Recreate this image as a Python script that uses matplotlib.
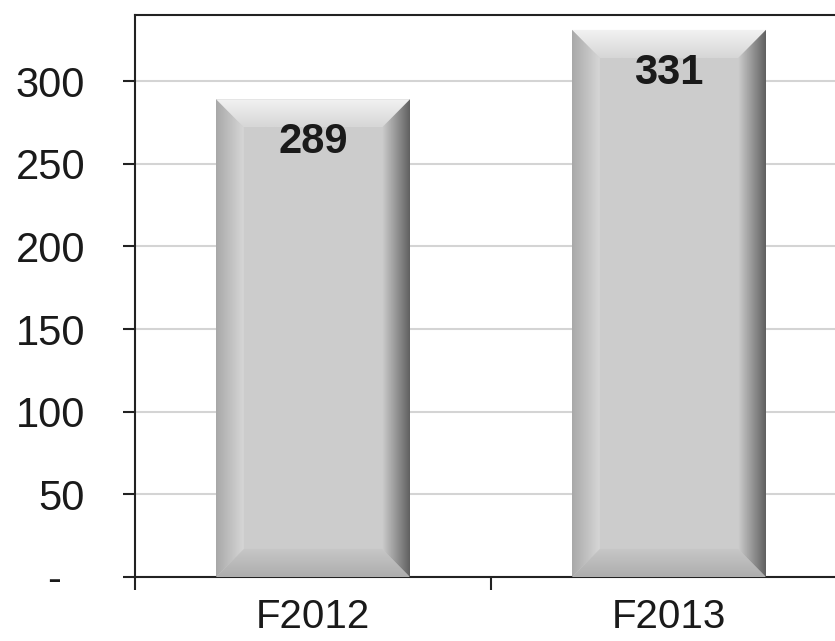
"""
Bar chart of two fiscal years with bevelled grey bars.
"""
import numpy as np
import matplotlib
matplotlib.use("Agg")
import matplotlib.pyplot as plt
from matplotlib.patches import Polygon

categories = ["F2012", "F2013"]
values = [289, 331]
yticks = [0, 50, 100, 150, 200, 250, 300]
ytick_labels = ["-  ", "50", "100", "150", "200", "250", "300"]

plt.rcParams["font.family"] = ["Liberation Sans", "DejaVu Sans"]

BAR_W = 0.545
BEVEL_X = 0.078
BEVEL_Y = 17.0
BASE = 0.80


def bevel(ax, poly_xy, extent, start, end, horizontal):
    """Fill a polygon with a linear grey ramp from start to end."""
    ramp = np.linspace(start, end, 64)
    img = ramp[None, :] if horizontal else ramp[:, None]
    im = ax.imshow(img, cmap="gray", vmin=0, vmax=1, extent=extent,
                   origin="lower", aspect="auto", interpolation="bilinear",
                   zorder=3)
    poly = Polygon(poly_xy, closed=True, facecolor="none", edgecolor="none",
                   transform=ax.transData)
    ax.add_patch(poly)
    im.set_clip_path(poly)


fig = plt.figure(figsize=(8.35, 6.41), dpi=100)
ax = fig.add_axes([135 / 835, 64 / 641, 712 / 835, 562 / 641])

x = np.arange(len(categories))
bars = ax.bar(x, values, width=BAR_W, color=str(BASE), zorder=2)

for b in bars:
    x0, y0 = b.get_x(), b.get_y()
    x1, y1 = x0 + b.get_width(), y0 + b.get_height()
    # top
    bevel(ax, [(x0, y1), (x1, y1), (x1 - BEVEL_X, y1 - BEVEL_Y), (x0 + BEVEL_X, y1 - BEVEL_Y)],
          [x0, x1, y1 - BEVEL_Y, y1], 0.84, 0.95, horizontal=False)
    # bottom
    bevel(ax, [(x0, y0), (x1, y0), (x1 - BEVEL_X, y0 + BEVEL_Y), (x0 + BEVEL_X, y0 + BEVEL_Y)],
          [x0, x1, y0, y0 + BEVEL_Y], 0.68, 0.78, horizontal=False)
    # left
    bevel(ax, [(x0, y0), (x0 + BEVEL_X, y0 + BEVEL_Y), (x0 + BEVEL_X, y1 - BEVEL_Y), (x0, y1)],
          [x0, x0 + BEVEL_X, y0, y1], 0.66, 0.84, horizontal=True)
    # right
    bevel(ax, [(x1, y0), (x1 - BEVEL_X, y0 + BEVEL_Y), (x1 - BEVEL_X, y1 - BEVEL_Y), (x1, y1)],
          [x1 - BEVEL_X, x1, y0, y1], 0.80, 0.38, horizontal=True)
    ax.text(b.get_x() + b.get_width() / 2, y1 - 26, f"{b.get_height():.0f}",
            ha="center", va="center", fontsize=30, fontweight="bold",
            color="#1a1a1a", zorder=5)

ax.set_xlim(-0.5, len(categories) - 0.5)
ax.set_ylim(0, 340)

ax.set_yticks(yticks)
ax.set_yticklabels(ytick_labels)
ax.yaxis.grid(True, color="#d4d4d4", linewidth=1.5, zorder=0)
ax.set_axisbelow(True)
ax.tick_params(axis="y", length=9, width=1.5, color="#222222", pad=27,
               labelsize=30, labelcolor="#1a1a1a")

ax.set_xticks(x)
ax.set_xticklabels(categories)
ax.set_xticks(np.arange(len(categories) + 1) - 0.5, minor=True)
ax.tick_params(axis="x", which="major", length=0, pad=15,
               labelsize=29, labelcolor="#1a1a1a")
ax.tick_params(axis="x", which="minor", length=9, width=1.5, color="#222222")

for s in ax.spines.values():
    s.set_color("#222222")
    s.set_linewidth(1.5)

fig.savefig("out.png", dpi=100)
plt.close(fig)
